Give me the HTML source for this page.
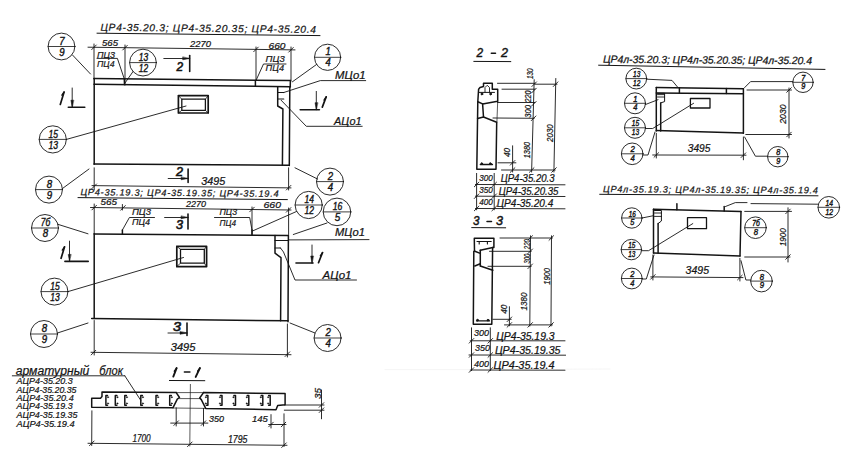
<!DOCTYPE html>
<html><head><meta charset="utf-8"><style>
html,body{margin:0;padding:0;background:#fff;width:847px;height:458px;overflow:hidden}
svg{display:block}
text{font-family:"Liberation Sans",sans-serif;font-style:italic;fill:#141414;stroke:#141414;stroke-width:0.22px}
line,polyline,polygon,rect,circle,path{fill:none;stroke:#141414;stroke-linecap:round;stroke-linejoin:round}
</style></head><body>
<svg width="847" height="458" viewBox="0 0 847 458">
<text transform="rotate(0.6 100.5 30.7)" x="100.5" y="30.7" font-size="10.2" textLength="215.5" lengthAdjust="spacing">ЦР4-35.20.3; ЦР4-35.20.35; ЦР4-35.20.4</text>
<line x1="97" y1="33.2" x2="320" y2="35.6" stroke-width="1.0"/>
<line x1="88" y1="47.2" x2="295" y2="49.9" stroke-width="0.9"/>
<line x1="91.7" y1="49.6" x2="96.3" y2="45" stroke-width="0.9"/>
<line x1="122.7" y1="50" x2="127.3" y2="45.4" stroke-width="0.9"/>
<line x1="253.7" y1="51.7" x2="258.3" y2="47.1" stroke-width="0.9"/>
<line x1="288.7" y1="52.1" x2="293.3" y2="47.5" stroke-width="0.9"/>
<text x="102" y="45.6" font-size="9" textLength="16" lengthAdjust="spacingAndGlyphs">565</text>
<text x="190" y="46.8" font-size="9" textLength="21" lengthAdjust="spacingAndGlyphs">2270</text>
<text x="268.5" y="48.9" font-size="9" textLength="17" lengthAdjust="spacingAndGlyphs">660</text>
<line x1="94" y1="44" x2="94" y2="79" stroke-width="0.9"/>
<line x1="125" y1="45" x2="125" y2="85" stroke-width="0.9"/>
<line x1="256" y1="47" x2="256" y2="80.5" stroke-width="0.9"/>
<line x1="291" y1="47" x2="291" y2="81" stroke-width="0.9"/>
<text x="97" y="57.5" font-size="9" textLength="18" lengthAdjust="spacingAndGlyphs">ПЦ3</text>
<text x="97" y="67.2" font-size="9" textLength="17.5" lengthAdjust="spacingAndGlyphs">ПЦ4</text>
<polyline points="97,58.4 117.4,58.4 124.3,79" stroke-width="0.9"/>
<text x="265.6" y="61.9" font-size="9" textLength="19.1" lengthAdjust="spacingAndGlyphs">ПЦ3</text>
<text x="265.6" y="71" font-size="9" textLength="18.4" lengthAdjust="spacingAndGlyphs">ПЦ4</text>
<polyline points="286,64 263.5,64 256.4,79.6" stroke-width="0.9"/>
<circle cx="61.5" cy="46.5" r="13.4" stroke-width="0.9"/>
<line x1="48.1" y1="46.5" x2="74.9" y2="46.5" stroke-width="0.81"/>
<text x="59.36" y="44.62" font-size="10.72" textLength="5.36" lengthAdjust="spacingAndGlyphs" style="stroke-width:0.4px">7</text>
<text x="59.36" y="55.61" font-size="10.72" textLength="5.36" lengthAdjust="spacingAndGlyphs" style="stroke-width:0.4px">9</text>
<line x1="72.5" y1="55" x2="90.5" y2="74" stroke-width="0.9"/>
<circle cx="143" cy="62.6" r="13.4" stroke-width="0.9"/>
<line x1="129.6" y1="62.6" x2="156.4" y2="62.6" stroke-width="0.81"/>
<text x="138.85" y="60.72" font-size="10.72" textLength="9.38" lengthAdjust="spacingAndGlyphs" style="stroke-width:0.4px">13</text>
<text x="138.85" y="71.71" font-size="10.72" textLength="9.38" lengthAdjust="spacingAndGlyphs" style="stroke-width:0.4px">12</text>
<line x1="133" y1="71.6" x2="125" y2="83" stroke-width="0.9"/>
<circle cx="327.6" cy="57.3" r="13.1" stroke-width="0.9"/>
<line x1="314.5" y1="57.3" x2="340.7" y2="57.3" stroke-width="0.81"/>
<text x="325.5" y="55.47" font-size="10.48" textLength="5.24" lengthAdjust="spacingAndGlyphs" style="stroke-width:0.4px">1</text>
<text x="325.5" y="66.21" font-size="10.48" textLength="5.24" lengthAdjust="spacingAndGlyphs" style="stroke-width:0.4px">4</text>
<line x1="316.5" y1="64.5" x2="292.4" y2="81.8" stroke-width="0.9"/>
<line x1="163.8" y1="58.5" x2="189.7" y2="58.5" stroke-width="0.9"/>
<polygon points="189.7,58.5 182.7,59.8 182.7,57.2" style="fill:#141414" stroke-width="0.5"/>
<line x1="189.7" y1="55.5" x2="189.7" y2="71.5" stroke-width="1.6"/>
<text x="176.6" y="70.5" font-size="12" textLength="6.6" lengthAdjust="spacingAndGlyphs" style="stroke-width:0.6px">2</text>
<line x1="94" y1="78.5" x2="290.4" y2="80.6" stroke-width="1.5"/>
<line x1="94" y1="84.3" x2="290.4" y2="86.8" stroke-width="1.5"/>
<line x1="290.4" y1="80.6" x2="290.2" y2="86.8" stroke-width="1.5"/>
<line x1="124.3" y1="78.8" x2="124.5" y2="84.6" stroke-width="1.5"/>
<line x1="255.4" y1="80.6" x2="255.4" y2="86.3" stroke-width="1.5"/>
<line x1="94.2" y1="78.6" x2="94.2" y2="164.3" stroke-width="1.5"/>
<line x1="94" y1="164" x2="289.3" y2="165.3" stroke-width="1.5"/>
<line x1="289.8" y1="86.8" x2="289.3" y2="165.4" stroke-width="1.5"/>
<polyline points="277.7,86.8 277.7,106 282.9,109 282.4,165.2" stroke-width="1.5"/>
<line x1="277.7" y1="92.5" x2="283.8" y2="92.5" stroke-width="1.1"/>
<line x1="277.7" y1="99" x2="283.8" y2="99" stroke-width="1.1"/>
<rect x="178.4" y="95.6" width="29.8" height="17.4" stroke-width="1.7"/>
<rect x="181.8" y="99.2" width="23.6" height="11.1" stroke-width="1.3"/>
<line x1="178.4" y1="95.6" x2="181.8" y2="99.2" stroke-width="0.8"/>
<line x1="208.2" y1="95.6" x2="205.4" y2="99.2" stroke-width="0.8"/>
<line x1="178.4" y1="113" x2="181.8" y2="110.3" stroke-width="0.8"/>
<line x1="208.2" y1="113" x2="205.4" y2="110.3" stroke-width="0.8"/>
<circle cx="52.8" cy="139.4" r="13.6" stroke-width="0.9"/>
<line x1="39.2" y1="139.4" x2="66.4" y2="139.4" stroke-width="0.81"/>
<text x="48.58" y="137.5" font-size="10.88" textLength="9.52" lengthAdjust="spacingAndGlyphs" style="stroke-width:0.4px">15</text>
<text x="48.58" y="148.65" font-size="10.88" textLength="9.52" lengthAdjust="spacingAndGlyphs" style="stroke-width:0.4px">13</text>
<line x1="66.4" y1="139.4" x2="186" y2="106" stroke-width="0.9"/>
<text x="335" y="79.2" font-size="10" textLength="30.5" lengthAdjust="spacingAndGlyphs">МЦо1</text>
<polyline points="283.8,92.5 320.3,80.6 365.7,80.6" stroke-width="0.9"/>
<text x="334" y="124.6" font-size="10" textLength="27.5" lengthAdjust="spacingAndGlyphs">АЦо1</text>
<polyline points="281.2,100.3 306.3,126.3 362.2,126.3" stroke-width="0.9"/>
<line x1="72.2" y1="88" x2="72.2" y2="107.2" stroke-width="0.9"/>
<polygon points="72.2,107.2 70.9,100.2 73.5,100.2" style="fill:#141414" stroke-width="0.5"/>
<line x1="68.3" y1="107.2" x2="84.8" y2="107.2" stroke-width="1.6"/>
<line x1="64.1" y1="92" x2="60.3" y2="104.5" stroke-width="1.7"/>
<line x1="64.1" y1="92" x2="61.9" y2="95.2" stroke-width="1.36"/>
<line x1="316.3" y1="91.4" x2="316.3" y2="109.7" stroke-width="0.9"/>
<polygon points="316.3,109.7 315,102.7 317.6,102.7" style="fill:#141414" stroke-width="0.5"/>
<line x1="300.2" y1="109.7" x2="319.4" y2="109.7" stroke-width="1.6"/>
<line x1="326.2" y1="96.9" x2="322.3" y2="107.1" stroke-width="1.7"/>
<line x1="326.2" y1="96.9" x2="324" y2="100.1" stroke-width="1.36"/>
<line x1="94.2" y1="167.8" x2="94.2" y2="190" stroke-width="0.9"/>
<line x1="288.6" y1="167.8" x2="288.6" y2="190" stroke-width="0.9"/>
<line x1="92" y1="185.6" x2="291" y2="187.9" stroke-width="0.9"/>
<line x1="91.9" y1="188.6" x2="96.5" y2="184" stroke-width="0.9"/>
<line x1="286.3" y1="190" x2="290.9" y2="185.4" stroke-width="0.9"/>
<text x="201.3" y="184.8" font-size="10.5" textLength="24" lengthAdjust="spacingAndGlyphs">3495</text>
<line x1="168.2" y1="178.5" x2="188.1" y2="178.5" stroke-width="0.9"/>
<polygon points="188.1,178.5 181.1,179.8 181.1,177.2" style="fill:#141414" stroke-width="0.5"/>
<line x1="188.1" y1="169" x2="188.1" y2="182.4" stroke-width="1.6"/>
<text x="176" y="175.8" font-size="12" textLength="7" lengthAdjust="spacingAndGlyphs" style="stroke-width:0.6px">2</text>
<circle cx="49" cy="189.6" r="13.5" stroke-width="0.9"/>
<line x1="35.5" y1="189.6" x2="62.5" y2="189.6" stroke-width="0.81"/>
<text x="46.84" y="187.71" font-size="10.8" textLength="5.4" lengthAdjust="spacingAndGlyphs" style="stroke-width:0.4px">8</text>
<text x="46.84" y="198.78" font-size="10.8" textLength="5.4" lengthAdjust="spacingAndGlyphs" style="stroke-width:0.4px">9</text>
<line x1="62.5" y1="188.5" x2="89" y2="169" stroke-width="0.9"/>
<circle cx="330" cy="181.6" r="13.5" stroke-width="0.9"/>
<line x1="316.5" y1="181.6" x2="343.5" y2="181.6" stroke-width="0.81"/>
<text x="327.84" y="179.71" font-size="10.8" textLength="5.4" lengthAdjust="spacingAndGlyphs" style="stroke-width:0.4px">2</text>
<text x="327.84" y="190.78" font-size="10.8" textLength="5.4" lengthAdjust="spacingAndGlyphs" style="stroke-width:0.4px">4</text>
<line x1="317.5" y1="179" x2="295" y2="167.8" stroke-width="0.9"/>
<text transform="rotate(0.5 80.4 195.2)" x="80.4" y="195.2" font-size="9.2" textLength="198.20000000000002" lengthAdjust="spacing">ЦР4-35.19.3; ЦР4-35.19.35; ЦР4-35.19.4</text>
<line x1="78" y1="197.6" x2="287.4" y2="199.6" stroke-width="1.0"/>
<line x1="90.5" y1="207.5" x2="291" y2="210" stroke-width="0.9"/>
<line x1="91.9" y1="209.9" x2="96.5" y2="205.3" stroke-width="0.9"/>
<line x1="120.7" y1="210.2" x2="125.3" y2="205.6" stroke-width="0.9"/>
<line x1="249.7" y1="211.8" x2="254.3" y2="207.2" stroke-width="0.9"/>
<line x1="286.3" y1="212.2" x2="290.9" y2="207.6" stroke-width="0.9"/>
<text x="100.5" y="205" font-size="9" textLength="16.5" lengthAdjust="spacingAndGlyphs">565</text>
<text x="186" y="207" font-size="9" textLength="20" lengthAdjust="spacingAndGlyphs">2270</text>
<text x="263.5" y="207.5" font-size="9" textLength="17.5" lengthAdjust="spacingAndGlyphs">660</text>
<line x1="94.2" y1="204" x2="94.2" y2="233.8" stroke-width="0.9"/>
<line x1="252" y1="207" x2="252" y2="234.5" stroke-width="0.9"/>
<line x1="288.6" y1="208" x2="288.6" y2="234.5" stroke-width="0.9"/>
<line x1="122.4" y1="204.5" x2="122.4" y2="210" stroke-width="0.9"/>
<line x1="122.4" y1="230" x2="122.4" y2="234" stroke-width="1.5"/>
<text x="132" y="215.2" font-size="9" textLength="19" lengthAdjust="spacingAndGlyphs">ПЦ3</text>
<text x="132" y="225.2" font-size="9" textLength="18" lengthAdjust="spacingAndGlyphs">ПЦ4</text>
<polyline points="154.5,217.5 129.4,217.5 122.4,230" stroke-width="0.9"/>
<text x="219.5" y="215.2" font-size="9" textLength="17.5" lengthAdjust="spacingAndGlyphs">ПЦ3</text>
<text x="219.5" y="226.4" font-size="9" textLength="16.5" lengthAdjust="spacingAndGlyphs">ПЦ4</text>
<polyline points="214.5,217.5 249.7,217.5 252,230" stroke-width="0.9"/>
<line x1="252" y1="230" x2="252" y2="234.5" stroke-width="1.5"/>
<circle cx="45" cy="228" r="13.5" stroke-width="0.9"/>
<line x1="31.5" y1="228" x2="58.5" y2="228" stroke-width="0.81"/>
<text x="40.81" y="226.11" font-size="10.8" textLength="9.45" lengthAdjust="spacingAndGlyphs" style="stroke-width:0.4px">7б</text>
<text x="42.84" y="237.18" font-size="10.8" textLength="5.4" lengthAdjust="spacingAndGlyphs" style="stroke-width:0.4px">8</text>
<polyline points="57.8,224.3 88,233.8" stroke-width="0.9"/>
<line x1="164.6" y1="217.5" x2="188" y2="217.5" stroke-width="0.9"/>
<polygon points="188,217.5 181,218.8 181,216.2" style="fill:#141414" stroke-width="0.5"/>
<line x1="188" y1="214" x2="188" y2="229" stroke-width="1.6"/>
<text x="176" y="229" font-size="12" textLength="7" lengthAdjust="spacingAndGlyphs" style="stroke-width:0.6px">3</text>
<circle cx="308.7" cy="205" r="13.6" stroke-width="0.9"/>
<line x1="295.1" y1="205" x2="322.3" y2="205" stroke-width="0.81"/>
<text x="304.48" y="203.1" font-size="10.88" textLength="9.52" lengthAdjust="spacingAndGlyphs" style="stroke-width:0.4px">14</text>
<text x="304.48" y="214.25" font-size="10.88" textLength="9.52" lengthAdjust="spacingAndGlyphs" style="stroke-width:0.4px">12</text>
<line x1="296.5" y1="211.5" x2="252.5" y2="231" stroke-width="0.9"/>
<circle cx="337" cy="211.9" r="13.8" stroke-width="0.9"/>
<line x1="323.2" y1="211.9" x2="350.8" y2="211.9" stroke-width="0.81"/>
<text x="332.72" y="209.97" font-size="11.04" textLength="9.66" lengthAdjust="spacingAndGlyphs" style="stroke-width:0.4px">16</text>
<text x="334.79" y="221.28" font-size="11.04" textLength="5.52" lengthAdjust="spacingAndGlyphs" style="stroke-width:0.4px">5</text>
<line x1="327" y1="223" x2="293.3" y2="234.5" stroke-width="0.9"/>
<text x="335" y="236.2" font-size="10" textLength="30" lengthAdjust="spacingAndGlyphs">МЦо1</text>
<line x1="288.8" y1="239.9" x2="369" y2="239.6" stroke-width="0.9"/>
<line x1="94.2" y1="234" x2="288.4" y2="235.4" stroke-width="1.5"/>
<line x1="94.2" y1="233.8" x2="94.2" y2="318.6" stroke-width="1.5"/>
<line x1="91.7" y1="318.4" x2="288" y2="320.8" stroke-width="1.5"/>
<line x1="288.4" y1="235.4" x2="288" y2="321.7" stroke-width="1.5"/>
<polyline points="275,235.4 275,253.2 281,257.7 280.6,320.8" stroke-width="1.5"/>
<line x1="275" y1="240.5" x2="288.4" y2="240.5" stroke-width="1.1"/>
<line x1="275" y1="248" x2="280.5" y2="248" stroke-width="1.1"/>
<rect x="176.8" y="246.4" width="29.8" height="20.2" stroke-width="1.7"/>
<rect x="180.5" y="249.3" width="23.8" height="13.8" stroke-width="1.3"/>
<line x1="176.8" y1="246.4" x2="180.5" y2="249.3" stroke-width="0.8"/>
<line x1="206.6" y1="246.4" x2="204.3" y2="249.3" stroke-width="0.8"/>
<line x1="176.8" y1="266.6" x2="180.5" y2="263.1" stroke-width="0.8"/>
<line x1="206.6" y1="266.6" x2="204.3" y2="263.1" stroke-width="0.8"/>
<circle cx="54.5" cy="291.6" r="13.5" stroke-width="0.9"/>
<line x1="41" y1="291.6" x2="68" y2="291.6" stroke-width="0.81"/>
<text x="50.31" y="289.71" font-size="10.8" textLength="9.45" lengthAdjust="spacingAndGlyphs" style="stroke-width:0.4px">15</text>
<text x="50.31" y="300.78" font-size="10.8" textLength="9.45" lengthAdjust="spacingAndGlyphs" style="stroke-width:0.4px">13</text>
<line x1="68" y1="291.6" x2="183.5" y2="257.5" stroke-width="0.9"/>
<line x1="69.5" y1="241.1" x2="69.5" y2="261.4" stroke-width="0.9"/>
<polygon points="69.5,261.4 68.2,254.4 70.8,254.4" style="fill:#141414" stroke-width="0.5"/>
<line x1="64.9" y1="261.4" x2="88.2" y2="261.4" stroke-width="1.6"/>
<line x1="64.5" y1="246.9" x2="61.1" y2="258.3" stroke-width="1.7"/>
<line x1="64.5" y1="246.9" x2="62.3" y2="250.1" stroke-width="1.36"/>
<line x1="312" y1="245" x2="312" y2="263" stroke-width="0.9"/>
<polygon points="312,263 310.7,256 313.3,256" style="fill:#141414" stroke-width="0.5"/>
<line x1="296" y1="263" x2="313" y2="263" stroke-width="1.6"/>
<line x1="322.5" y1="252.6" x2="318.5" y2="262.7" stroke-width="1.7"/>
<line x1="322.5" y1="252.6" x2="320.3" y2="255.8" stroke-width="1.36"/>
<text x="322.5" y="279" font-size="10" textLength="29" lengthAdjust="spacingAndGlyphs">АЦо1</text>
<polyline points="280.5,248 283.5,252 295,280 356.5,280" stroke-width="0.9"/>
<line x1="94.2" y1="320.5" x2="94.2" y2="355" stroke-width="0.9"/>
<line x1="287.4" y1="324" x2="287.4" y2="357" stroke-width="0.9"/>
<line x1="91" y1="352.3" x2="291" y2="354.7" stroke-width="0.9"/>
<line x1="91.2" y1="354.9" x2="95.8" y2="350.3" stroke-width="0.9"/>
<line x1="285.1" y1="356.5" x2="289.7" y2="351.9" stroke-width="0.9"/>
<text x="170.7" y="351.4" font-size="10.5" textLength="24.8" lengthAdjust="spacingAndGlyphs">3495</text>
<line x1="168" y1="333" x2="187" y2="333" stroke-width="0.9"/>
<polygon points="187,333 180,334.3 180,331.7" style="fill:#141414" stroke-width="0.5"/>
<line x1="187" y1="323" x2="187" y2="335.5" stroke-width="1.6"/>
<text x="173" y="330.5" font-size="12" textLength="8" lengthAdjust="spacingAndGlyphs" style="stroke-width:0.6px">3</text>
<circle cx="44" cy="334" r="13.5" stroke-width="0.9"/>
<line x1="30.5" y1="334" x2="57.5" y2="334" stroke-width="0.81"/>
<text x="41.84" y="332.11" font-size="10.8" textLength="5.4" lengthAdjust="spacingAndGlyphs" style="stroke-width:0.4px">8</text>
<text x="41.84" y="343.18" font-size="10.8" textLength="5.4" lengthAdjust="spacingAndGlyphs" style="stroke-width:0.4px">9</text>
<line x1="57.5" y1="333" x2="88" y2="323" stroke-width="0.9"/>
<circle cx="327.6" cy="338" r="13.5" stroke-width="0.9"/>
<line x1="314.1" y1="338" x2="341.1" y2="338" stroke-width="0.81"/>
<text x="325.44" y="336.11" font-size="10.8" textLength="5.4" lengthAdjust="spacingAndGlyphs" style="stroke-width:0.4px">2</text>
<text x="325.44" y="347.18" font-size="10.8" textLength="5.4" lengthAdjust="spacingAndGlyphs" style="stroke-width:0.4px">4</text>
<line x1="315" y1="333" x2="290" y2="323" stroke-width="0.9"/>
<text x="15.7" y="374.6" font-size="12" textLength="73.7" lengthAdjust="spacingAndGlyphs">арматурный</text>
<text x="99.3" y="374.6" font-size="12" textLength="23.7" lengthAdjust="spacingAndGlyphs">блок</text>
<line x1="12.3" y1="375.8" x2="124.8" y2="375.8" stroke-width="0.9"/>
<line x1="124.8" y1="375.8" x2="140.8" y2="400.4" stroke-width="0.9"/>
<text x="16.5" y="384.3" font-size="9.5" textLength="56.3" lengthAdjust="spacingAndGlyphs">АЦР4-35.20.3</text>
<text x="16.5" y="392.8" font-size="9.5" textLength="60" lengthAdjust="spacingAndGlyphs">АЦР4-35.20.35</text>
<text x="16.5" y="401.3" font-size="9.5" textLength="57.2" lengthAdjust="spacingAndGlyphs">АЦР4-35.20.4</text>
<text x="16.5" y="408.9" font-size="9.5" textLength="56.3" lengthAdjust="spacingAndGlyphs">АЦР4-35.19.3</text>
<text x="16.5" y="418.3" font-size="9.5" textLength="61" lengthAdjust="spacingAndGlyphs">АЦР4-35.19.35</text>
<text x="16.5" y="426.8" font-size="9.5" textLength="58.2" lengthAdjust="spacingAndGlyphs">АЦР4-35.19.4</text>
<line x1="176.6" y1="368.1" x2="173.3" y2="376.6" stroke-width="1.9"/>
<line x1="176.6" y1="368.1" x2="174.4" y2="371.3" stroke-width="1.52"/>
<line x1="184.4" y1="372" x2="189.9" y2="372" stroke-width="1.6"/>
<line x1="199.9" y1="368.1" x2="195.7" y2="376.9" stroke-width="1.9"/>
<line x1="199.9" y1="368.1" x2="197.7" y2="371.3" stroke-width="1.52"/>
<line x1="169.4" y1="380.5" x2="204.8" y2="380.7" stroke-width="1.0"/>
<polyline points="176.2,392.6 102,391.9 102,396.5 100.5,398.2 91.7,398.2 91.7,407.2 172.9,407.8 177.3,399.1 179.5,397.5 176.2,392.6" stroke-width="1.5"/>
<polyline points="203.5,392.6 285.1,393.5 285.1,404.7 277.7,405.5 276,409.7 205.7,408.4 201.3,399.6 199.7,398 203.5,392.6" stroke-width="1.5"/>
<line x1="176.2" y1="392.6" x2="203.5" y2="392.6" stroke-width="0.7"/>
<line x1="179.5" y1="398.6" x2="199.7" y2="398.6" stroke-width="0.7"/>
<line x1="172.9" y1="408" x2="205.7" y2="408.4" stroke-width="0.7"/>
<line x1="190.4" y1="384.4" x2="189.8" y2="446" stroke-width="0.7"/>
<polyline points="107.5,395.4 105.9,395.4 105.9,405.2 107.5,405.2" stroke-width="1.5"/>
<circle cx="107.98" cy="397.20" r="0.75" style="fill:#141414" stroke-width="0.3"/><circle cx="107.98" cy="403.40" r="0.75" style="fill:#141414" stroke-width="0.3"/>
<polyline points="116.9,395.4 115.3,395.4 115.3,405.2 116.9,405.2" stroke-width="1.5"/>
<circle cx="117.38" cy="397.20" r="0.75" style="fill:#141414" stroke-width="0.3"/><circle cx="117.38" cy="403.40" r="0.75" style="fill:#141414" stroke-width="0.3"/>
<polyline points="126.4,395.4 124.8,395.4 124.8,405.2 126.4,405.2" stroke-width="1.5"/>
<circle cx="126.88" cy="397.20" r="0.75" style="fill:#141414" stroke-width="0.3"/><circle cx="126.88" cy="403.40" r="0.75" style="fill:#141414" stroke-width="0.3"/>
<polyline points="142.4,395.4 140.8,395.4 140.8,405.2 142.4,405.2" stroke-width="1.5"/>
<circle cx="142.88" cy="397.20" r="0.75" style="fill:#141414" stroke-width="0.3"/><circle cx="142.88" cy="403.40" r="0.75" style="fill:#141414" stroke-width="0.3"/>
<polyline points="157.6,395.4 156,395.4 156,405.2 157.6,405.2" stroke-width="1.5"/>
<circle cx="158.08" cy="397.20" r="0.75" style="fill:#141414" stroke-width="0.3"/><circle cx="158.08" cy="403.40" r="0.75" style="fill:#141414" stroke-width="0.3"/>
<polyline points="171.3,395.4 169.7,395.4 169.7,405.2 171.3,405.2" stroke-width="1.5"/>
<circle cx="171.78" cy="397.20" r="0.75" style="fill:#141414" stroke-width="0.3"/><circle cx="171.78" cy="403.40" r="0.75" style="fill:#141414" stroke-width="0.3"/>
<polyline points="206.3,395.4 207.9,395.4 207.9,405.2 206.3,405.2" stroke-width="1.5"/>
<circle cx="205.82" cy="397.20" r="0.75" style="fill:#141414" stroke-width="0.3"/><circle cx="205.82" cy="403.40" r="0.75" style="fill:#141414" stroke-width="0.3"/>
<polyline points="220.4,395.4 222,395.4 222,405.2 220.4,405.2" stroke-width="1.5"/>
<circle cx="219.92" cy="397.20" r="0.75" style="fill:#141414" stroke-width="0.3"/><circle cx="219.92" cy="403.40" r="0.75" style="fill:#141414" stroke-width="0.3"/>
<polyline points="233.9,395.4 235.5,395.4 235.5,405.2 233.9,405.2" stroke-width="1.5"/>
<circle cx="233.42" cy="397.20" r="0.75" style="fill:#141414" stroke-width="0.3"/><circle cx="233.42" cy="403.40" r="0.75" style="fill:#141414" stroke-width="0.3"/>
<polyline points="247.2,395.4 248.8,395.4 248.8,405.2 247.2,405.2" stroke-width="1.5"/>
<circle cx="246.72" cy="397.20" r="0.75" style="fill:#141414" stroke-width="0.3"/><circle cx="246.72" cy="403.40" r="0.75" style="fill:#141414" stroke-width="0.3"/>
<polyline points="261.2,395.4 262.8,395.4 262.8,405.2 261.2,405.2" stroke-width="1.5"/>
<circle cx="260.72" cy="397.20" r="0.75" style="fill:#141414" stroke-width="0.3"/><circle cx="260.72" cy="403.40" r="0.75" style="fill:#141414" stroke-width="0.3"/>
<polyline points="268.6,395.4 270.2,395.4 270.2,405.2 268.6,405.2" stroke-width="1.5"/>
<circle cx="268.12" cy="397.20" r="0.75" style="fill:#141414" stroke-width="0.3"/><circle cx="268.12" cy="403.40" r="0.75" style="fill:#141414" stroke-width="0.3"/>
<line x1="91.9" y1="410.8" x2="91.7" y2="445.5" stroke-width="0.9"/>
<line x1="284" y1="413.8" x2="284" y2="446.5" stroke-width="0.9"/>
<line x1="176.2" y1="407.8" x2="176.2" y2="426" stroke-width="0.9"/>
<line x1="203.5" y1="408.4" x2="203.5" y2="426" stroke-width="0.9"/>
<line x1="88" y1="443.3" x2="287" y2="445.3" stroke-width="0.9"/>
<line x1="89.5" y1="445.6" x2="94.1" y2="441" stroke-width="0.9"/>
<line x1="187.5" y1="446.6" x2="192.1" y2="442" stroke-width="0.9"/>
<line x1="281.7" y1="447.5" x2="286.3" y2="442.9" stroke-width="0.9"/>
<text x="132.4" y="442.2" font-size="10.5" textLength="18.2" lengthAdjust="spacingAndGlyphs">1700</text>
<text x="228" y="442.8" font-size="10.5" textLength="19.5" lengthAdjust="spacingAndGlyphs">1795</text>
<line x1="170.7" y1="423.1" x2="207.9" y2="423.1" stroke-width="0.9"/>
<line x1="173.9" y1="425.4" x2="178.5" y2="420.8" stroke-width="0.9"/>
<line x1="201.2" y1="425.4" x2="205.8" y2="420.8" stroke-width="0.9"/>
<text x="209" y="421.5" font-size="9" textLength="15" lengthAdjust="spacingAndGlyphs">350</text>
<text x="252" y="422" font-size="9" textLength="15.8" lengthAdjust="spacingAndGlyphs">145</text>
<line x1="271" y1="414.6" x2="271" y2="428" stroke-width="0.9"/>
<line x1="268.6" y1="424.5" x2="286" y2="424.5" stroke-width="0.9"/>
<line x1="268.7" y1="426.8" x2="273.3" y2="422.2" stroke-width="0.9"/>
<line x1="281.2" y1="426.8" x2="285.8" y2="422.2" stroke-width="0.9"/>
<line x1="284.3" y1="405" x2="324" y2="405" stroke-width="0.9"/>
<line x1="284.3" y1="410.2" x2="324" y2="410.2" stroke-width="0.9"/>
<line x1="321.5" y1="390" x2="321.5" y2="418.8" stroke-width="0.9"/>
<line x1="319.2" y1="407.3" x2="323.8" y2="402.7" stroke-width="0.9"/>
<line x1="319.2" y1="412.5" x2="323.8" y2="407.9" stroke-width="0.9"/>
<text transform="translate(320.54,399) rotate(-90)" font-size="9" textLength="11" lengthAdjust="spacingAndGlyphs">35</text>
<text x="476.4" y="57.2" font-size="12.5" textLength="6.6" lengthAdjust="spacingAndGlyphs" style="stroke-width:0.45px">2</text>
<line x1="491.3" y1="53.3" x2="495.5" y2="53.3" stroke-width="1.5"/>
<text x="501" y="57.2" font-size="12.5" textLength="7" lengthAdjust="spacingAndGlyphs" style="stroke-width:0.45px">2</text>
<line x1="473.8" y1="61.4" x2="510.8" y2="61.6" stroke-width="1.0"/>
<polyline points="483.5,86.5 483.5,83.2 492.3,83.2 492.3,89.2 497.7,89.2 497.7,101.2 482.6,103.9 483.5,117 496.7,122.2 496,169.3 476.8,169.3 477.8,101.7 478.6,89.2 480,87.5 483.5,86.5" stroke-width="1.5"/>
<line x1="497.7" y1="101.2" x2="496.9" y2="122.2" stroke-width="0.7"/>
<line x1="477.8" y1="101.7" x2="482.6" y2="103.9" stroke-width="1.5"/>
<line x1="477.6" y1="118.5" x2="483.5" y2="117" stroke-width="1.5"/>
<polyline points="485,92.3 485,87.5 487.2,85.3 489.5,87.5 489.5,92.3" stroke-width="0.9"/>
<line x1="479" y1="92.4" x2="494.5" y2="92.4" stroke-width="1.0"/>
<circle cx="481.9" cy="94" r="0.9" style="fill:#141414"/><circle cx="490.6" cy="94" r="0.9" style="fill:#141414"/>
<line x1="480.3" y1="164.5" x2="492.5" y2="164.5" stroke-width="1.3"/>
<circle cx="481.8" cy="163.5" r="0.8" style="fill:#141414"/><circle cx="490.3" cy="163.5" r="0.8" style="fill:#141414"/>
<line x1="497.5" y1="83.3" x2="534.9" y2="83.3" stroke-width="0.9"/>
<line x1="534.9" y1="84.2" x2="557" y2="84.2" stroke-width="0.9"/>
<line x1="502" y1="89.2" x2="534.9" y2="89.2" stroke-width="0.9"/>
<line x1="497.5" y1="102.5" x2="534.9" y2="102.5" stroke-width="0.9"/>
<line x1="493" y1="118" x2="534.2" y2="118.3" stroke-width="0.9"/>
<line x1="498" y1="162.8" x2="515.9" y2="162.8" stroke-width="0.9"/>
<line x1="501.5" y1="170" x2="555.2" y2="170" stroke-width="0.9"/>
<line x1="534.2" y1="79.7" x2="531.6" y2="172" stroke-width="0.9"/>
<line x1="555.8" y1="78.5" x2="553.9" y2="172" stroke-width="0.9"/>
<line x1="531.9" y1="86.5" x2="536.5" y2="81.9" stroke-width="0.9"/>
<line x1="531.7" y1="92.8" x2="536.3" y2="88.2" stroke-width="0.9"/>
<line x1="531.5" y1="106.1" x2="536.1" y2="101.5" stroke-width="0.9"/>
<line x1="531.3" y1="120.6" x2="535.9" y2="116" stroke-width="0.9"/>
<line x1="529.4" y1="172.3" x2="534" y2="167.7" stroke-width="0.9"/>
<line x1="553.3" y1="86.5" x2="557.9" y2="81.9" stroke-width="0.9"/>
<line x1="551.7" y1="172.3" x2="556.3" y2="167.7" stroke-width="0.9"/>
<line x1="510.3" y1="165.1" x2="514.9" y2="160.5" stroke-width="0.9"/>
<line x1="510.3" y1="172.3" x2="514.9" y2="167.7" stroke-width="0.9"/>
<line x1="512.6" y1="145.8" x2="512.6" y2="172" stroke-width="0.9"/>
<text transform="translate(533.26,79.1) rotate(-90)" font-size="8.5" textLength="10.8" lengthAdjust="spacingAndGlyphs">130</text>
<text transform="translate(531.26,102.5) rotate(-90)" font-size="8.5" textLength="12" lengthAdjust="spacingAndGlyphs">220</text>
<text transform="translate(531.06,117.7) rotate(-90)" font-size="8.5" textLength="12.7" lengthAdjust="spacingAndGlyphs">300</text>
<text transform="translate(510.24,157) rotate(-90)" font-size="9" textLength="9.2" lengthAdjust="spacingAndGlyphs">40</text>
<text transform="translate(530.24,158.2) rotate(-90)" font-size="9" textLength="16.3" lengthAdjust="spacingAndGlyphs">1380</text>
<text transform="translate(553.42,141.9) rotate(-90)" font-size="9.5" textLength="17.7" lengthAdjust="spacingAndGlyphs">2030</text>
<text x="479.3" y="180.6" font-size="9" textLength="13.6" lengthAdjust="spacingAndGlyphs">300</text>
<text x="500.7" y="182.4" font-size="10" textLength="53.9" lengthAdjust="spacingAndGlyphs">ЦР4-35.20.3</text>
<text x="479.3" y="192.9" font-size="9" textLength="13.6" lengthAdjust="spacingAndGlyphs">350</text>
<text x="498.8" y="195" font-size="10" textLength="59.7" lengthAdjust="spacingAndGlyphs">ЦР4-35.20.35</text>
<text x="479.3" y="204.6" font-size="9" textLength="13.6" lengthAdjust="spacingAndGlyphs">400</text>
<text x="496.8" y="207.4" font-size="10" textLength="56.5" lengthAdjust="spacingAndGlyphs">ЦР4-35.20.4</text>
<line x1="475.4" y1="184.5" x2="565" y2="184.8" stroke-width="0.9"/>
<line x1="475.4" y1="196.2" x2="565" y2="196.5" stroke-width="0.9"/>
<line x1="475.4" y1="208.5" x2="565" y2="208.8" stroke-width="0.9"/>
<line x1="476.6" y1="173.4" x2="476.6" y2="209.8" stroke-width="0.9"/>
<line x1="494.2" y1="173.4" x2="494.2" y2="209.8" stroke-width="0.9"/>
<line x1="474.3" y1="186.8" x2="478.9" y2="182.2" stroke-width="0.9"/>
<line x1="491.9" y1="186.8" x2="496.5" y2="182.2" stroke-width="0.9"/>
<line x1="474.3" y1="198.5" x2="478.9" y2="193.9" stroke-width="0.9"/>
<line x1="491.9" y1="198.5" x2="496.5" y2="193.9" stroke-width="0.9"/>
<line x1="474.3" y1="210.8" x2="478.9" y2="206.2" stroke-width="0.9"/>
<line x1="491.9" y1="210.8" x2="496.5" y2="206.2" stroke-width="0.9"/>
<text x="473" y="225.3" font-size="12.5" textLength="6.5" lengthAdjust="spacingAndGlyphs" style="stroke-width:0.45px">3</text>
<line x1="487" y1="221.5" x2="491.5" y2="221.5" stroke-width="1.5"/>
<text x="496" y="225.3" font-size="12.5" textLength="7" lengthAdjust="spacingAndGlyphs" style="stroke-width:0.45px">3</text>
<line x1="471.7" y1="227.6" x2="505.7" y2="227.8" stroke-width="1.0"/>
<polyline points="474.5,251.3 474.3,238.2 493.9,238.2 493.9,247.4 492.6,247.4 491.8,324.2 473.3,324.2 473.8,251.3" stroke-width="1.5"/>
<line x1="474.8" y1="251.3" x2="480.3" y2="253.4" stroke-width="1.5"/>
<line x1="480.3" y1="250.2" x2="492.8" y2="247.4" stroke-width="1.5"/>
<line x1="480.3" y1="250.2" x2="480.3" y2="266" stroke-width="1.5"/>
<line x1="474.8" y1="266" x2="480.3" y2="263.8" stroke-width="1.5"/>
<line x1="480.3" y1="266" x2="492.8" y2="270.3" stroke-width="1.5"/>
<polyline points="477,241.5 491.2,241.5" stroke-width="1.1"/>
<line x1="479.2" y1="241.5" x2="479.2" y2="244" stroke-width="1.1"/>
<line x1="487.4" y1="241.5" x2="487.4" y2="244" stroke-width="1.1"/>
<line x1="476.5" y1="320.9" x2="489.5" y2="320.9" stroke-width="1.3"/>
<circle cx="477.5" cy="320.2" r="0.9" style="fill:#141414"/><circle cx="488" cy="320.2" r="0.9" style="fill:#141414"/>
<line x1="500" y1="238" x2="552.4" y2="238" stroke-width="0.9"/>
<line x1="489.5" y1="251.3" x2="531.2" y2="251.3" stroke-width="0.9"/>
<line x1="488" y1="266.3" x2="531.2" y2="266.3" stroke-width="0.9"/>
<line x1="504.5" y1="324.9" x2="552.4" y2="324.9" stroke-width="0.9"/>
<line x1="492.8" y1="319.3" x2="511.2" y2="319.3" stroke-width="0.9"/>
<line x1="530.5" y1="235.8" x2="529.8" y2="326" stroke-width="0.9"/>
<line x1="551.5" y1="235.8" x2="551" y2="326" stroke-width="0.9"/>
<line x1="527.9" y1="240.3" x2="532.5" y2="235.7" stroke-width="0.9"/>
<line x1="527.9" y1="253.6" x2="532.5" y2="249" stroke-width="0.9"/>
<line x1="527.9" y1="268.6" x2="532.5" y2="264" stroke-width="0.9"/>
<line x1="527.9" y1="327.2" x2="532.5" y2="322.6" stroke-width="0.9"/>
<line x1="549" y1="240.3" x2="553.6" y2="235.7" stroke-width="0.9"/>
<line x1="548.8" y1="327.2" x2="553.4" y2="322.6" stroke-width="0.9"/>
<line x1="507.1" y1="321.6" x2="511.7" y2="317" stroke-width="0.9"/>
<line x1="507.1" y1="327.2" x2="511.7" y2="322.6" stroke-width="0.9"/>
<line x1="509.4" y1="306.7" x2="509.4" y2="325.8" stroke-width="0.9"/>
<text transform="translate(529.56,249.2) rotate(-90)" font-size="8.5" textLength="10.2" lengthAdjust="spacingAndGlyphs">220</text>
<text transform="translate(529.56,263.6) rotate(-90)" font-size="8.5" textLength="10" lengthAdjust="spacingAndGlyphs">300</text>
<text transform="translate(526.74,310.4) rotate(-90)" font-size="9" textLength="17.8" lengthAdjust="spacingAndGlyphs">1380</text>
<text transform="translate(550.22,284.8) rotate(-90)" font-size="9.5" textLength="16.8" lengthAdjust="spacingAndGlyphs">1900</text>
<text transform="translate(506.94,313.8) rotate(-90)" font-size="9" textLength="9.3" lengthAdjust="spacingAndGlyphs">40</text>
<text x="474" y="336.2" font-size="9" textLength="15" lengthAdjust="spacingAndGlyphs">300</text>
<text x="496.2" y="339.6" font-size="10" textLength="58.4" lengthAdjust="spacingAndGlyphs">ЦР4-35.19.3</text>
<text x="475" y="350.5" font-size="9" textLength="15" lengthAdjust="spacingAndGlyphs">350</text>
<text x="494.9" y="353.8" font-size="10" textLength="65.6" lengthAdjust="spacingAndGlyphs">ЦР4-35.19.35</text>
<text x="474" y="366.8" font-size="9" textLength="15" lengthAdjust="spacingAndGlyphs">400</text>
<text x="493.6" y="369.4" font-size="10" textLength="61" lengthAdjust="spacingAndGlyphs">ЦР4-35.19.4</text>
<line x1="470.2" y1="340.8" x2="565" y2="340.8" stroke-width="0.9"/>
<line x1="469" y1="355" x2="565.6" y2="355.2" stroke-width="0.9"/>
<line x1="470.2" y1="370" x2="565" y2="370.2" stroke-width="0.9"/>
<line x1="471.5" y1="327.8" x2="471.5" y2="370.6" stroke-width="0.9"/>
<line x1="490.3" y1="327.8" x2="490.3" y2="370.6" stroke-width="0.9"/>
<line x1="469.2" y1="343.1" x2="473.8" y2="338.5" stroke-width="0.9"/>
<line x1="488" y1="343.1" x2="492.6" y2="338.5" stroke-width="0.9"/>
<line x1="469.2" y1="357.3" x2="473.8" y2="352.7" stroke-width="0.9"/>
<line x1="488" y1="357.3" x2="492.6" y2="352.7" stroke-width="0.9"/>
<line x1="469.2" y1="372.3" x2="473.8" y2="367.7" stroke-width="0.9"/>
<line x1="488" y1="372.3" x2="492.6" y2="367.7" stroke-width="0.9"/>
<text transform="rotate(0.4 603 62.8)" x="603" y="62.8" font-size="10.5" textLength="209" lengthAdjust="spacing">ЦР4л-35.20.3; ЦР4л-35.20.35; ЦР4л-35.20.4</text>
<line x1="598.6" y1="65.2" x2="825" y2="69.4" stroke-width="1.0"/>
<line x1="656.3" y1="87.6" x2="743.4" y2="88.8" stroke-width="1.5"/>
<line x1="656.3" y1="93" x2="743.4" y2="93.7" stroke-width="1.5"/>
<line x1="679.4" y1="87.8" x2="679.4" y2="93" stroke-width="1.5"/>
<line x1="726.4" y1="88.4" x2="726.4" y2="93.5" stroke-width="1.5"/>
<line x1="656.3" y1="87.6" x2="656.3" y2="130.9" stroke-width="1.5"/>
<line x1="656.3" y1="130.6" x2="743.4" y2="133" stroke-width="1.5"/>
<line x1="743.4" y1="88.8" x2="743.4" y2="133.3" stroke-width="1.5"/>
<polyline points="657.5,93.3 664.6,93.3 664.6,101.6 660.7,102.9" stroke-width="1.0"/>
<line x1="657.5" y1="94.6" x2="664.6" y2="94.6" stroke-width="0.9"/>
<line x1="657.5" y1="97" x2="664.6" y2="97" stroke-width="0.9"/>
<line x1="660.7" y1="102.9" x2="660.7" y2="130.9" stroke-width="1.5"/>
<rect x="690.4" y="98.5" width="19.6" height="9.5" stroke-width="1.3"/>
<circle cx="636.3" cy="78.6" r="10.4" stroke-width="0.9"/>
<line x1="625.9" y1="78.6" x2="646.7" y2="78.6" stroke-width="0.81"/>
<text x="633.08" y="77.14" font-size="8.32" textLength="7.28" lengthAdjust="spacingAndGlyphs" style="stroke-width:0.4px">13</text>
<text x="633.08" y="85.67" font-size="8.32" textLength="7.28" lengthAdjust="spacingAndGlyphs" style="stroke-width:0.4px">12</text>
<polyline points="646.7,79.2 672,80.4 678,87.6" stroke-width="0.9"/>
<circle cx="635" cy="103.3" r="10.5" stroke-width="0.9"/>
<line x1="624.5" y1="103.3" x2="645.5" y2="103.3" stroke-width="0.81"/>
<text x="633.32" y="101.83" font-size="8.4" textLength="4.2" lengthAdjust="spacingAndGlyphs" style="stroke-width:0.4px">1</text>
<text x="633.32" y="110.44" font-size="8.4" textLength="4.2" lengthAdjust="spacingAndGlyphs" style="stroke-width:0.4px">4</text>
<line x1="645.5" y1="104.5" x2="658" y2="99.7" stroke-width="0.9"/>
<circle cx="635" cy="127.8" r="10.5" stroke-width="0.9"/>
<line x1="624.5" y1="127.8" x2="645.5" y2="127.8" stroke-width="0.81"/>
<text x="631.75" y="126.33" font-size="8.4" textLength="7.35" lengthAdjust="spacingAndGlyphs" style="stroke-width:0.4px">15</text>
<text x="631.75" y="134.94" font-size="8.4" textLength="7.35" lengthAdjust="spacingAndGlyphs" style="stroke-width:0.4px">13</text>
<polyline points="645.5,128.5 652.7,128.5 693.6,103.3" stroke-width="0.9"/>
<circle cx="803" cy="82.3" r="10.2" stroke-width="0.9"/>
<line x1="792.8" y1="82.3" x2="813.2" y2="82.3" stroke-width="0.81"/>
<text x="801.37" y="80.87" font-size="8.16" textLength="4.08" lengthAdjust="spacingAndGlyphs" style="stroke-width:0.4px">7</text>
<text x="801.37" y="89.24" font-size="8.16" textLength="4.08" lengthAdjust="spacingAndGlyphs" style="stroke-width:0.4px">9</text>
<polyline points="792.8,81.6 750.6,81.6 744.6,87.6" stroke-width="0.9"/>
<line x1="747" y1="90" x2="791.5" y2="90" stroke-width="0.9"/>
<line x1="789" y1="88" x2="789" y2="138" stroke-width="0.9"/>
<line x1="786.7" y1="92.3" x2="791.3" y2="87.7" stroke-width="0.9"/>
<line x1="786.7" y1="136.8" x2="791.3" y2="132.2" stroke-width="0.9"/>
<text transform="translate(786.24,123.7) rotate(-90)" font-size="9" textLength="19.2" lengthAdjust="spacingAndGlyphs">2030</text>
<line x1="745.8" y1="134.5" x2="791.5" y2="134.5" stroke-width="0.9"/>
<line x1="656.3" y1="133.3" x2="656.3" y2="158" stroke-width="0.9"/>
<line x1="743.4" y1="137" x2="743.4" y2="159.8" stroke-width="0.9"/>
<line x1="652.7" y1="155" x2="746" y2="155.2" stroke-width="0.9"/>
<line x1="654" y1="157.3" x2="658.6" y2="152.7" stroke-width="0.9"/>
<line x1="741.1" y1="157.5" x2="745.7" y2="152.9" stroke-width="0.9"/>
<text x="687.8" y="151.5" font-size="10" textLength="22.6" lengthAdjust="spacingAndGlyphs">3495</text>
<circle cx="777.8" cy="156.7" r="10.2" stroke-width="0.9"/>
<line x1="767.6" y1="156.7" x2="788" y2="156.7" stroke-width="0.81"/>
<text x="776.17" y="155.27" font-size="8.16" textLength="4.08" lengthAdjust="spacingAndGlyphs" style="stroke-width:0.4px">8</text>
<text x="776.17" y="163.64" font-size="8.16" textLength="4.08" lengthAdjust="spacingAndGlyphs" style="stroke-width:0.4px">9</text>
<polyline points="767.6,156.2 755.4,156.2 744.6,137" stroke-width="0.9"/>
<circle cx="632.2" cy="153.8" r="10.8" stroke-width="0.9"/>
<line x1="621.4" y1="153.8" x2="643" y2="153.8" stroke-width="0.81"/>
<text x="630.47" y="152.29" font-size="8.64" textLength="4.32" lengthAdjust="spacingAndGlyphs" style="stroke-width:0.4px">2</text>
<text x="630.47" y="161.14" font-size="8.64" textLength="4.32" lengthAdjust="spacingAndGlyphs" style="stroke-width:0.4px">4</text>
<polyline points="643,155 648,155 655,132" stroke-width="0.9"/>
<text transform="rotate(0.3 603 192.3)" x="603" y="192.3" font-size="9.2" textLength="215" lengthAdjust="spacing">ЦР4л-35.19.3; ЦР4л-35.19.35; ЦР4л-35.19.4</text>
<line x1="599.7" y1="194.3" x2="818" y2="195.8" stroke-width="1.0"/>
<line x1="653.5" y1="209.2" x2="741" y2="211.4" stroke-width="1.5"/>
<line x1="676.9" y1="203.7" x2="676.9" y2="209.8" stroke-width="1.5"/>
<line x1="724.2" y1="206.6" x2="724.2" y2="211" stroke-width="1.5"/>
<polyline points="725.5,206.5 735.3,202.6 747,202.6" stroke-width="0.9"/>
<line x1="751" y1="203.6" x2="818" y2="204.2" stroke-width="0.9"/>
<line x1="653.5" y1="209.2" x2="653.5" y2="252.9" stroke-width="1.5"/>
<line x1="658.1" y1="223.6" x2="658.1" y2="253" stroke-width="1.5"/>
<polyline points="654.5,210.5 661.4,210.5 661.4,221 658.1,223.6" stroke-width="1.0"/>
<line x1="654.5" y1="213" x2="661.4" y2="213" stroke-width="0.9"/>
<line x1="654.5" y1="216.4" x2="661.4" y2="216.4" stroke-width="0.9"/>
<line x1="741" y1="211.4" x2="740" y2="256" stroke-width="1.5"/>
<line x1="653.5" y1="252.9" x2="740" y2="256" stroke-width="1.5"/>
<rect x="687.5" y="217.7" width="19" height="11" stroke-width="1.3"/>
<circle cx="828.8" cy="207.3" r="10.8" stroke-width="0.9"/>
<line x1="818" y1="207.3" x2="839.6" y2="207.3" stroke-width="0.81"/>
<text x="825.45" y="205.79" font-size="8.64" textLength="7.56" lengthAdjust="spacingAndGlyphs" style="stroke-width:0.4px">14</text>
<text x="825.45" y="214.64" font-size="8.64" textLength="7.56" lengthAdjust="spacingAndGlyphs" style="stroke-width:0.4px">12</text>
<line x1="744.7" y1="211.4" x2="791.5" y2="211.4" stroke-width="0.9"/>
<line x1="788" y1="207.8" x2="788" y2="262" stroke-width="0.9"/>
<line x1="785.7" y1="213.7" x2="790.3" y2="209.1" stroke-width="0.9"/>
<line x1="785.7" y1="259.3" x2="790.3" y2="254.7" stroke-width="0.9"/>
<text transform="translate(785.74,246.3) rotate(-90)" font-size="9" textLength="18" lengthAdjust="spacingAndGlyphs">1900</text>
<line x1="744.7" y1="257" x2="790" y2="257" stroke-width="0.9"/>
<circle cx="755.5" cy="227.7" r="10.8" stroke-width="0.9"/>
<line x1="744.7" y1="227.7" x2="766.3" y2="227.7" stroke-width="0.81"/>
<text x="752.15" y="226.19" font-size="8.64" textLength="7.56" lengthAdjust="spacingAndGlyphs" style="stroke-width:0.4px">7б</text>
<text x="753.77" y="235.04" font-size="8.64" textLength="4.32" lengthAdjust="spacingAndGlyphs" style="stroke-width:0.4px">8</text>
<circle cx="631.8" cy="218" r="10.2" stroke-width="0.9"/>
<line x1="621.6" y1="218" x2="642" y2="218" stroke-width="0.81"/>
<text x="628.64" y="216.57" font-size="8.16" textLength="7.14" lengthAdjust="spacingAndGlyphs" style="stroke-width:0.4px">16</text>
<text x="630.17" y="224.94" font-size="8.16" textLength="4.08" lengthAdjust="spacingAndGlyphs" style="stroke-width:0.4px">5</text>
<line x1="642" y1="218" x2="653.5" y2="215.7" stroke-width="0.9"/>
<circle cx="631.4" cy="249.6" r="10.2" stroke-width="0.9"/>
<line x1="621.2" y1="249.6" x2="641.6" y2="249.6" stroke-width="0.81"/>
<text x="628.24" y="248.17" font-size="8.16" textLength="7.14" lengthAdjust="spacingAndGlyphs" style="stroke-width:0.4px">15</text>
<text x="628.24" y="256.54" font-size="8.16" textLength="7.14" lengthAdjust="spacingAndGlyphs" style="stroke-width:0.4px">13</text>
<polyline points="641.6,250.7 648.5,250.7 692.8,223.6" stroke-width="0.9"/>
<circle cx="631.8" cy="278.5" r="10.4" stroke-width="0.9"/>
<line x1="621.4" y1="278.5" x2="642.2" y2="278.5" stroke-width="0.81"/>
<text x="630.14" y="277.04" font-size="8.32" textLength="4.16" lengthAdjust="spacingAndGlyphs" style="stroke-width:0.4px">2</text>
<text x="630.14" y="285.57" font-size="8.32" textLength="4.16" lengthAdjust="spacingAndGlyphs" style="stroke-width:0.4px">4</text>
<polyline points="642.2,279 646.3,279 654,255" stroke-width="0.9"/>
<line x1="652.9" y1="255" x2="652.9" y2="280" stroke-width="0.9"/>
<line x1="739.9" y1="258.3" x2="739.9" y2="281" stroke-width="0.9"/>
<line x1="650.7" y1="276.9" x2="743" y2="277.6" stroke-width="0.9"/>
<line x1="650.6" y1="279.2" x2="655.2" y2="274.6" stroke-width="0.9"/>
<line x1="737.6" y1="279.8" x2="742.2" y2="275.2" stroke-width="0.9"/>
<text x="685.6" y="273.5" font-size="10" textLength="23.4" lengthAdjust="spacingAndGlyphs">3495</text>
<circle cx="761.5" cy="281.1" r="10.8" stroke-width="0.9"/>
<line x1="750.7" y1="281.1" x2="772.3" y2="281.1" stroke-width="0.81"/>
<text x="759.77" y="279.59" font-size="8.64" textLength="4.32" lengthAdjust="spacingAndGlyphs" style="stroke-width:0.4px">8</text>
<text x="759.77" y="288.44" font-size="8.64" textLength="4.32" lengthAdjust="spacingAndGlyphs" style="stroke-width:0.4px">9</text>
<polyline points="750.7,280 745.9,280 741,260.7" stroke-width="0.9"/>
<line x1="385" y1="369.6" x2="470" y2="369.6" stroke-width="0.8" style="stroke:#f3f3f3"/>
<line x1="566" y1="369.2" x2="610" y2="369" stroke-width="0.8" style="stroke:#f3f3f3"/>
</svg></body></html>
